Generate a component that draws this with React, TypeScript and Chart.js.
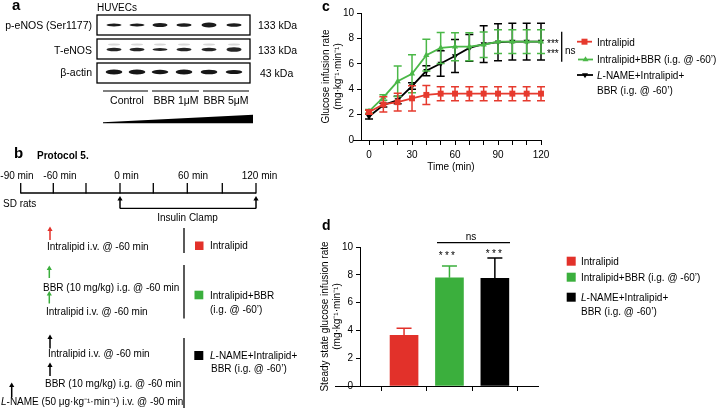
import React, { useEffect, useRef } from 'react';
import { Chart, registerables } from 'chart.js';

Chart.register(...registerables);

const FONT = '"Liberation Sans", Arial, Helvetica, sans-serif';

// ---------- Panel c : glucose infusion rate over time ----------
const timeMin = [0, 10, 20, 30, 40, 50, 60, 70, 80, 90, 100, 110, 120];
const timeTickValues = [0, 10, 20, 30, 40, 50, 60, 70, 80, 90, 100, 110, 120];
const timeTickLabels = [0, 30, 60, 90, 120];
const girTickValues = [0, 2, 4, 6, 8, 10];

const intralipidGIR = [2.2, 2.8, 2.98, 3.28, 3.55, 3.65, 3.65, 3.65, 3.65, 3.65, 3.65, 3.65, 3.65];
const intralipidSEM = [0.15, 0.6, 0.7, 1.0, 0.75, 0.55, 0.55, 0.55, 0.55, 0.55, 0.55, 0.55, 0.55];
const bbrGIR = [2.25, 3.35, 4.62, 5.22, 6.68, 7.25, 7.35, 7.35, 7.5, 7.75, 7.75, 7.75, 7.75];
const bbrSEM = [0.15, 0.22, 1.2, 1.5, 1.25, 1.22, 1.1, 1.1, 1.0, 0.93, 0.93, 0.93, 0.93];
const lnameGIR = [1.85, 2.75, 3.15, 4.25, 5.45, 6.02, 6.62, 7.25, 7.55, 7.7, 7.75, 7.75, 7.75];
const lnameSEM = [0.2, 0.15, 0.3, 0.25, 0.4, 1.0, 1.3, 1.05, 1.45, 1.45, 1.45, 1.45, 1.45];

// ---------- Panel d : steady state glucose infusion rate ----------
const groupNames = ['Intralipid', 'Intralipid+BBR (i.g. @ -60’)', 'L-NAME+Intralipid+BBR (i.g. @ -60’)'];
const groupPositions = [1, 2, 3];
const steadyGIR = [3.65, 7.78, 7.75];
const steadySEM = [0.5, 0.85, 1.45];
const steadyTickValues = [0, 2, 4, 6, 8, 10];

// ---------- Panel a : blot band intensities (thickness) ----------
const laneX = [114, 137, 160, 184, 209, 234];
const peNOSBand = [2.2, 2.2, 3.4, 3.0, 4.6, 3.0];
const teNOSBand = [2.8, 2.8, 2.4, 2.8, 3.0, 4.0];
const actinBand = [4.2, 4.2, 3.8, 4.2, 4.0, 3.6];

const RED_C = '#E63A2E';
const GREEN_C = '#4BB848';
const RED_D = '#E2312A';
const GREEN_D = '#3BAF3D';

const errorBarPlugin = {
  id: 'errorBars',
  afterDatasetDraw(chart: any, args: any) {
    const ds: any = chart.data.datasets[args.index];
    const errs: number[] | undefined = ds.errors;
    if (!errs) return;
    const meta = args.meta;
    const yScale = chart.scales[meta.yAxisID];
    const ctx = chart.ctx;
    ctx.save();
    ctx.lineWidth = ds.errorWidth || 1.5;
    const half = (ds.capWidth || 8) / 2;
    meta.data.forEach((el: any, i: number) => {
      const raw = ds.data[i];
      const v = typeof raw === 'object' ? raw.y : raw;
      const e = errs[i];
      const x = el.x;
      const yHi = yScale.getPixelForValue(v + e);
      const yLo = yScale.getPixelForValue(ds.errorUpOnly ? v : v - e);
      ctx.strokeStyle = ds.errorColors ? ds.errorColors[i] : ds.borderColor;
      ctx.beginPath();
      ctx.moveTo(x, yLo);
      ctx.lineTo(x, yHi);
      ctx.moveTo(x - half, yHi);
      ctx.lineTo(x + half, yHi);
      if (!ds.errorUpOnly) {
        ctx.moveTo(x - half, yLo);
        ctx.lineTo(x + half, yLo);
      }
      ctx.stroke();
    });
    ctx.restore();
  },
};

const axisExtendPlugin = {
  id: 'axisExtend',
  afterDraw(chart: any, _args: any, opts: any) {
    const len = opts && opts.length;
    if (!len) return;
    const { left, bottom } = chart.chartArea;
    const y = Math.round(bottom - 0.5) + 0.5;
    const ctx = chart.ctx;
    ctx.save();
    ctx.strokeStyle = '#000';
    ctx.lineWidth = 1;
    ctx.beginPath();
    ctx.moveTo(left - len, y);
    ctx.lineTo(left, y);
    ctx.stroke();
    ctx.restore();
  },
};

const axisFont = { family: FONT, size: 10 };

function baseGrid() {
  return { display: true, drawOnChartArea: false, drawTicks: true, tickLength: 4, tickColor: '#000', tickWidth: 1 };
}

export default function App() {
  const cRef = useRef<HTMLCanvasElement>(null);
  const dRef = useRef<HTMLCanvasElement>(null);

  useEffect(() => {
    Chart.defaults.font.family = FONT;
    Chart.defaults.color = '#000';

    const lineChart = new Chart(cRef.current as HTMLCanvasElement, {
      type: 'line',
      data: {
        datasets: [
          {
            label: groupNames[0],
            data: timeMin.map((t, i) => ({ x: t, y: intralipidGIR[i] })),
            errors: intralipidSEM,
            borderColor: RED_C,
            backgroundColor: RED_C,
            pointStyle: 'rect',
            pointRadius: 4.2,
            pointBorderWidth: 0,
            borderWidth: 1.8,
            tension: 0,
            capWidth: 8,
            clip: false,
          } as any,
          {
            label: groupNames[1],
            data: timeMin.map((t, i) => ({ x: t, y: bbrGIR[i] })),
            errors: bbrSEM,
            borderColor: GREEN_C,
            backgroundColor: GREEN_C,
            pointStyle: 'triangle',
            pointRadius: 3.6,
            pointBorderWidth: 0,
            borderWidth: 1.8,
            tension: 0,
            capWidth: 8,
            clip: false,
          } as any,
          {
            label: groupNames[2],
            data: timeMin.map((t, i) => ({ x: t, y: lnameGIR[i] })),
            errors: lnameSEM,
            borderColor: '#000',
            backgroundColor: '#000',
            pointStyle: 'triangle',
            pointRotation: 180,
            pointRadius: 3.6,
            pointBorderWidth: 0,
            borderWidth: 1.8,
            tension: 0,
            capWidth: 8,
            clip: false,
          } as any,
        ],
      },
      options: {
        animation: false,
        responsive: false,
        layout: { padding: { top: 13, right: 15, bottom: 0, left: 0 } },
        plugins: {
          legend: { display: false },
          tooltip: { enabled: false },
          axisExtend: { length: 8 },
        } as any,
        scales: {
          x: {
            type: 'linear',
            min: -5.6,
            max: 120,
            afterBuildTicks: (s: any) => {
              s.ticks = timeTickValues.map((v) => ({ value: v }));
            },
            afterFit: (s: any) => {
              s.height = 40;
            },
            ticks: {
              autoSkip: false,
              maxRotation: 0,
              padding: 4,
              color: '#000',
              font: axisFont,
              callback: (v: any) => (timeTickLabels.includes(Number(v)) ? String(v) : ''),
            },
            grid: { ...baseGrid(), tickLength: 5 },
            border: { display: true, color: '#000', width: 1 },
            title: { display: true, text: 'Time (min)', color: '#000', font: axisFont, padding: { top: 0, bottom: 7 } },
          },
          y: {
            type: 'linear',
            min: 0,
            max: 10,
            afterBuildTicks: (s: any) => {
              s.ticks = girTickValues.map((v) => ({ value: v }));
            },
            afterFit: (s: any) => {
              s.width = 71;
            },
            ticks: { padding: 3, color: '#000', font: axisFont },
            grid: baseGrid(),
            border: { display: true, color: '#000', width: 1 },
            title: {
              display: true,
              text: ['Glucose infusion rate', '(mg·kg⁻¹·min⁻¹)'],
              color: '#000',
              font: axisFont,
              padding: { top: 30, bottom: 0 },
            },
          },
        },
      } as any,
      plugins: [errorBarPlugin, axisExtendPlugin],
    });

    const barChart = new Chart(dRef.current as HTMLCanvasElement, {
      type: 'bar',
      data: {
        datasets: [
          {
            label: 'Steady state GIR',
            data: groupPositions.map((p, i) => ({ x: p, y: steadyGIR[i] })),
            backgroundColor: [RED_D, GREEN_D, '#000'],
            borderWidth: 0,
            barThickness: 28,
            errors: steadySEM,
            errorColors: [RED_D, GREEN_D, '#000'],
            errorUpOnly: true,
            capWidth: 15,
            clip: false,
          } as any,
        ],
      },
      options: {
        animation: false,
        responsive: false,
        layout: { padding: { top: 47, right: 12, bottom: 0, left: 0 } },
        plugins: {
          legend: { display: false },
          tooltip: { enabled: false },
          axisExtend: { length: 25 },
        } as any,
        scales: {
          x: {
            type: 'linear',
            min: 0.03,
            max: 3.95,
            offset: false,
            afterBuildTicks: (s: any) => {
              s.ticks = groupPositions.map((v) => ({ value: v }));
            },
            afterFit: (s: any) => {
              s.height = 22;
            },
            ticks: { autoSkip: false, maxRotation: 0, callback: () => '' },
            grid: { ...baseGrid(), tickLength: 5 },
            border: { display: true, color: '#000', width: 1 },
          },
          y: {
            type: 'linear',
            min: 0,
            max: 10,
            afterBuildTicks: (s: any) => {
              s.ticks = steadyTickValues.map((v) => ({ value: v }));
            },
            afterFit: (s: any) => {
              s.width = 70;
            },
            ticks: { padding: 3, color: '#000', font: axisFont },
            grid: baseGrid(),
            border: { display: true, color: '#000', width: 1 },
            title: {
              display: true,
              text: ['Steady state glucose infusion rate', '(mg·kg⁻¹·min⁻¹)'],
              color: '#000',
              font: axisFont,
              padding: { top: 29, bottom: 0 },
            },
          },
        },
      } as any,
      plugins: [errorBarPlugin, axisExtendPlugin],
    });

    return () => {
      lineChart.destroy();
      barChart.destroy();
    };
  }, []);

  const T = (props: any) => <text dominantBaseline="central" fontSize={10} {...props} />;

  const Arrow = ({ x, top, bottom, color }: { x: number; top: number; bottom: number; color: string }) => (
    <g>
      <line x1={x} y1={bottom} x2={x} y2={top + 3} stroke={color} strokeWidth={1.5} />
      <polygon points={`${x - 2.6},${top + 4.5} ${x + 2.6},${top + 4.5} ${x},${top}`} fill={color} />
    </g>
  );

  const timelineTicks = [20.7, 53.3, 86, 120, 153.3, 187.3, 222.3, 256];

  return (
    <div style={{ position: 'absolute', left: 0, top: 0, width: 718, height: 408, background: '#fff', overflow: 'hidden' }}>
      <canvas ref={cRef} width={266} height={180} style={{ position: 'absolute', left: 290, top: 0 }} />
      <canvas ref={dRef} width={260} height={208} style={{ position: 'absolute', left: 290, top: 200 }} />
      <svg width={718} height={408} style={{ position: 'absolute', left: 0, top: 0 }} fontFamily={FONT}>
        <defs>
          <filter id="bandBlur" x="-20%" y="-100%" width="140%" height="300%">
            <feGaussianBlur stdDeviation="0.7" />
          </filter>
        </defs>

        {/* ---------- Panel a ---------- */}
        <text x={12} y={10} fontSize={15} fontWeight="bold">a</text>
        <T x={97} y={7}>HUVECs</T>
        {[15, 39, 63].map((y) => (
          <rect key={y} x={97} y={y} width={153} height={20} fill="#fff" stroke="#000" strokeWidth={1.3} />
        ))}
        <g filter="url(#bandBlur)">
          {laneX.map((x, i) => (
            <ellipse key={'p' + i} cx={x} cy={25} rx={7.5} ry={peNOSBand[i] / 2 + 0.3} fill="#1b1b1b" />
          ))}
          {laneX.map((x, i) => (
            <ellipse key={'tf' + i} cx={x} cy={44.5} rx={6} ry={1} fill="#d8d8d8" />
          ))}
          {laneX.map((x, i) => (
            <ellipse key={'t' + i} cx={x} cy={49.5} rx={7.5} ry={teNOSBand[i] / 2 + 0.3} fill="#262626" />
          ))}
          {laneX.map((x, i) => (
            <ellipse key={'a' + i} cx={x} cy={72} rx={8.3} ry={actinBand[i] / 2 + 0.3} fill="#141414" />
          ))}
        </g>
        <T x={92} y={25} textAnchor="end" fontSize={10.5}>p-eNOS (Ser1177)</T>
        <T x={92} y={49.5} textAnchor="end" fontSize={10.5}>T-eNOS</T>
        <T x={92} y={72} textAnchor="end" fontSize={10.5}>β-actin</T>
        <T x={258} y={25} fontSize={10.5}>133 kDa</T>
        <T x={258} y={49.5} fontSize={10.5}>133 kDa</T>
        <T x={260} y={73} fontSize={10.5}>43 kDa</T>
        {[[103, 148], [152, 199], [203, 249]].map(([a, b]) => (
          <line key={a} x1={a} y1={91} x2={b} y2={91} stroke="#000" strokeWidth={1.2} />
        ))}
        <T x={127} y={99.5} textAnchor="middle" fontSize={10.5}>Control</T>
        <T x={176} y={99.5} textAnchor="middle" fontSize={10.5}>BBR 1μM</T>
        <T x={226} y={99.5} textAnchor="middle" fontSize={10.5}>BBR 5μM</T>
        <polygon points="103,122.3 253,114.8 253,123.3 103,123.3" fill="#000" />

        {/* ---------- Panel b ---------- */}
        <text x={14} y={158} fontSize={15} fontWeight="bold">b</text>
        <T x={37} y={155} fontWeight="bold">Protocol 5.</T>
        <T x={17} y={175} textAnchor="middle">-90 min</T>
        <T x={60} y={175} textAnchor="middle">-60 min</T>
        <T x={126.5} y={175} textAnchor="middle">0 min</T>
        <T x={193} y={175} textAnchor="middle">60 min</T>
        <T x={259.5} y={175} textAnchor="middle">120 min</T>
        <line x1={20.7} y1={193} x2={256} y2={193} stroke="#000" strokeWidth={1.3} />
        {timelineTicks.map((x) => (
          <line key={x} x1={x} y1={183} x2={x} y2={193.6} stroke="#000" strokeWidth={1.3} />
        ))}
        <T x={3} y={203}>SD rats</T>
        <line x1={120} y1={208.3} x2={256} y2={208.3} stroke="#000" strokeWidth={1.3} />
        <Arrow x={120} top={196} bottom={208.5} color="#000" />
        <Arrow x={256} top={196} bottom={208.5} color="#000" />
        <T x={187.5} y={217} textAnchor="middle">Insulin Clamp</T>

        <Arrow x={50} top={226.5} bottom={240} color={RED_D} />
        <T x={47} y={246}>Intralipid i.v. @ -60 min</T>
        <line x1={184} y1={228} x2={184} y2={253} stroke="#000" strokeWidth={1.3} />
        <rect x={195} y={241.5} width={8.5} height={8.5} fill={RED_D} />
        <T x={210} y={245}>Intralipid</T>

        <Arrow x={49.3} top={265.5} bottom={278} color={GREEN_D} />
        <T x={43} y={287.3}>BBR (10 mg/kg) i.g. @ -60 min</T>
        <Arrow x={49.3} top={291} bottom={303.5} color={GREEN_D} />
        <T x={46} y={311.7}>Intralipid i.v. @ -60 min</T>
        <line x1={184} y1={265} x2={184} y2={318.5} stroke="#000" strokeWidth={1.3} />
        <rect x={194.5} y={290.7} width={8.8} height={8.6} fill={GREEN_D} />
        <T x={210} y={295}>Intralipid+BBR</T>
        <T x={210} y={309}>(i.g. @ -60’)</T>

        <Arrow x={50} top={334.5} bottom={348.5} color="#000" />
        <T x={48} y={353.3}>Intralipid i.v. @ -60 min</T>
        <Arrow x={50} top={362.5} bottom={376} color="#000" />
        <T x={45} y={383}>BBR (10 mg/kg) i.g. @ -60 min</T>
        <Arrow x={11.7} top={382.5} bottom={397} color="#000" />
        <T x={1} y={401}>
          <tspan fontStyle="italic">L</tspan>-NAME (50 μg·kg⁻¹·min⁻¹) i.v. @ -90 min
        </T>
        <line x1={184} y1={338} x2={184} y2={408} stroke="#000" strokeWidth={1.3} />
        <rect x={194.3} y={351} width={9} height={9} fill="#000" />
        <T x={210} y={355}>
          <tspan fontStyle="italic">L</tspan>-NAME+Intralipid+
        </T>
        <T x={211} y={368.5}>BBR (i.g. @ -60’)</T>

        {/* ---------- Panel c overlays ---------- */}
        <text x={322} y={10.5} fontSize={14} fontWeight="bold">c</text>
        <text x={547} y={47.4} fontSize={10}>***</text>
        <text x={547} y={57.4} fontSize={10}>***</text>
        <line x1={561.7} y1={31.7} x2={561.7} y2={61.7} stroke="#000" strokeWidth={1.3} />
        <T x={565} y={50}>ns</T>

        <line x1={577} y1={41.7} x2={592} y2={41.7} stroke={RED_C} strokeWidth={1.8} />
        <rect x={581.5} y={38.7} width={6} height={6} fill={RED_C} />
        <T x={597} y={42}>{groupNames[0]}</T>
        <line x1={578} y1={59.5} x2={593} y2={59.5} stroke={GREEN_C} strokeWidth={1.8} />
        <polygon points="582.5,61.3 588.5,61.3 585.5,56.2" fill={GREEN_C} />
        <T x={597} y={59.5}>{groupNames[1]}</T>
        <line x1={577} y1={75} x2={593} y2={75} stroke="#000" strokeWidth={1.8} />
        <polygon points="582,73.2 588,73.2 585,78.3" fill="#000" />
        <T x={597} y={75}>
          <tspan fontStyle="italic">L</tspan>-NAME+Intralipid+
        </T>
        <T x={597} y={90.7}>BBR (i.g. @ -60’)</T>

        {/* ---------- Panel d overlays ---------- */}
        <text x={322} y={229.5} fontSize={14} fontWeight="bold">d</text>
        <line x1={437} y1={242.7} x2={510} y2={242.7} stroke="#000" strokeWidth={1.3} />
        <T x={471} y={236.5} textAnchor="middle">ns</T>
        <text x={448} y={258.6} fontSize={10} textAnchor="middle" letterSpacing={2.2}>***</text>
        <text x={495} y={256.6} fontSize={10} textAnchor="middle" letterSpacing={2.2}>***</text>

        <rect x={566.7} y={256.7} width={9} height={9} fill={RED_D} />
        <T x={581} y={261}>{groupNames[0]}</T>
        <rect x={566.7} y={272.7} width={9} height={9} fill={GREEN_D} />
        <T x={581} y={277}>{groupNames[1]}</T>
        <rect x={566.7} y={292.7} width={9} height={9} fill="#000" />
        <T x={581} y={297}>
          <tspan fontStyle="italic">L</tspan>-NAME+Intralipid+
        </T>
        <T x={581} y={311}>BBR (i.g. @ -60’)</T>
      </svg>
    </div>
  );
}
